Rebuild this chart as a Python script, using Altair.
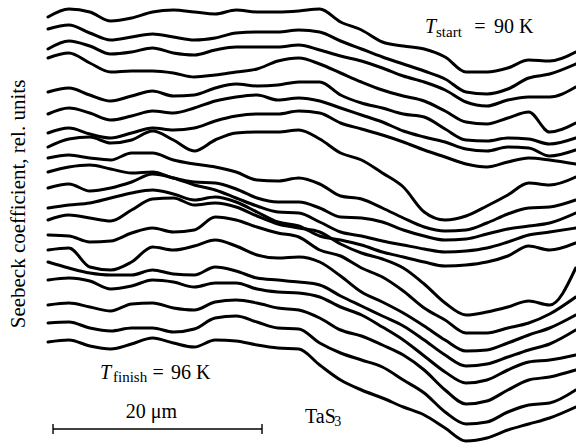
import altair as alt
import pandas as pd

# positions along the whisker, micrometres (scale bar = 20 um)
X_UM = [0, 2, 4, 6, 8, 10, 12, 14, 16, 18, 20, 22, 24, 26, 28, 30,
        32, 34, 36, 38, 40, 42, 44, 46, 48, 50.5]

# traces: level below the top edge, in 0.1 rel. units
TRACE_01 = [17, 9, 12, 21, 18, 12, 10, 12, 14, 10, 12, 12, 11, 9, 22, 30, 42, 46, 49, 57, 72, 72, 68, 60, 61, 52]
TRACE_02 = [29, 25, 33, 40, 37, 34, 37, 40, 38, 33, 32, 32, 30, 32, 41, 49, 57, 64, 71, 79, 92, 94, 89, 78, 74, 64]
TRACE_03 = [49, 41, 46, 54, 52, 48, 53, 55, 50, 47, 47, 47, 45, 50, 56, 61, 68, 76, 82, 90, 102, 106, 100, 97, 97, 87]
TRACE_04 = [58, 53, 63, 72, 71, 71, 73, 77, 75, 72, 69, 61, 58, 64, 73, 82, 90, 96, 101, 111, 122, 124, 118, 112, 132, 123]
TRACE_05 = [92, 88, 95, 101, 96, 91, 96, 95, 88, 84, 86, 85, 82, 82, 95, 103, 108, 114, 117, 129, 140, 141, 138, 139, 144, 138]
TRACE_06 = [114, 108, 113, 120, 116, 111, 113, 108, 101, 97, 95, 100, 98, 101, 108, 115, 122, 131, 137, 142, 149, 151, 147, 148, 156, 150]
TRACE_07 = [133, 128, 134, 138, 133, 128, 130, 128, 121, 116, 114, 114, 111, 113, 123, 129, 135, 142, 150, 157, 164, 167, 162, 158, 160, 164]
TRACE_08 = [147, 139, 137, 143, 140, 131, 140, 151, 140, 133, 132, 132, 130, 139, 153, 160, 173, 187, 212, 220, 216, 206, 195, 183, 185, 177]
TRACE_09 = [158, 155, 158, 160, 153, 153, 160, 164, 167, 172, 180, 181, 178, 184, 196, 199, 208, 218, 227, 231, 230, 223, 214, 208, 207, 200]
TRACE_10 = [172, 167, 165, 169, 173, 172, 178, 182, 183, 189, 198, 202, 202, 208, 217, 218, 222, 230, 236, 240, 239, 234, 229, 226, 223, 213]
TRACE_11 = [188, 184, 191, 188, 182, 174, 178, 185, 190, 198, 206, 212, 213, 222, 232, 236, 241, 245, 249, 252, 251, 248, 242, 235, 232, 228]
TRACE_12 = [208, 205, 203, 198, 193, 190, 194, 200, 197, 202, 212, 222, 226, 236, 240, 245, 252, 257, 262, 266, 265, 262, 256, 246, 250, 243]
TRACE_13 = [220, 215, 218, 221, 210, 199, 198, 205, 203, 207, 216, 224, 228, 232, 244, 253, 259, 268, 284, 303, 315, 312, 307, 301, 305, 268]
TRACE_14 = [235, 236, 242, 241, 233, 228, 232, 230, 217, 220, 227, 233, 237, 250, 256, 268, 277, 291, 308, 320, 333, 333, 328, 323, 314, 297]
TRACE_15 = [250, 248, 267, 270, 262, 247, 250, 246, 240, 246, 255, 258, 257, 262, 276, 292, 302, 313, 326, 340, 351, 350, 343, 335, 328, 315]
TRACE_16 = [262, 268, 273, 275, 275, 270, 274, 275, 267, 271, 278, 280, 282, 285, 296, 306, 316, 326, 340, 355, 366, 364, 357, 350, 344, 330]
TRACE_17 = [280, 278, 281, 289, 286, 280, 282, 287, 283, 283, 289, 292, 293, 297, 307, 315, 327, 340, 356, 372, 383, 380, 370, 362, 360, 355]
TRACE_18 = [305, 303, 307, 311, 304, 303, 308, 310, 302, 300, 303, 308, 310, 318, 330, 336, 345, 355, 370, 390, 404, 401, 390, 380, 377, 370]
TRACE_19 = [323, 322, 328, 331, 328, 328, 332, 329, 318, 316, 322, 328, 329, 343, 353, 360, 367, 380, 393, 412, 424, 422, 412, 405, 403, 390]
TRACE_20 = [342, 340, 346, 349, 344, 338, 343, 347, 340, 341, 345, 348, 349, 365, 380, 390, 398, 407, 415, 428, 441, 438, 430, 424, 418, 407]

TRACES = [TRACE_01, TRACE_02, TRACE_03, TRACE_04, TRACE_05, TRACE_06, TRACE_07,
          TRACE_08, TRACE_09, TRACE_10, TRACE_11, TRACE_12, TRACE_13, TRACE_14,
          TRACE_15, TRACE_16, TRACE_17, TRACE_18, TRACE_19, TRACE_20]

TOP = 44.6  # rel. units at the top edge of the figure

rows = []
for i, tr in enumerate(TRACES):
    for x, r in zip(X_UM, tr):
        rows.append({"trace": i, "x": x, "s": TOP - r / 10.0})
df = pd.DataFrame(rows)

XS = alt.Scale(domain=[-4.593, 50.526], nice=False, zero=False)
YS = alt.Scale(domain=[0, TOP], nice=False, zero=False)

lines = alt.Chart(df).mark_line(
    color="black", strokeWidth=3.0, interpolate="monotone",
    strokeCap="round", strokeJoin="round"
).encode(
    x=alt.X("x:Q", scale=XS, axis=None),
    y=alt.Y("s:Q", scale=YS, axis=None),
    detail="trace:N",
)

SERIF = "Liberation Serif"


def label(x, y, text, size=20, italic=False, align="left", angle=0):
    d = pd.DataFrame({"x": [x], "y": [y], "t": [text]})
    kw = dict(font=SERIF, fontSize=size, align=align, baseline="alphabetic",
              color="black")
    if italic:
        kw["fontStyle"] = "italic"
    if angle:
        kw["angle"] = angle
    return alt.Chart(d).mark_text(**kw).encode(
        x=alt.X("x:Q", scale=XS, axis=None),
        y=alt.Y("y:Q", scale=YS, axis=None),
        text="t:N",
    )


texts = [
    label(36.08, 41.3, "T", 20, italic=True),
    label(37.13, 40.9, "start", 15),
    label(41.34, 41.3, "=", 20, align="center"),
    label(42.68, 41.3, "90 K", 20),
    label(4.98, 6.7, "T", 20, italic=True),
    label(6.22, 6.4, "finish", 15),
    label(10.53, 6.7, "=", 20, align="center"),
    label(11.77, 6.7, "96 K", 20),
    label(9.9, 2.8, "20 μm", 20, align="center"),
    label(24.59, 2.3, "TaS", 20),
    label(27.40, 2.0, "3", 14),
    label(-2.2, 24.2, "Seebeck coefficient, rel. units", 21, align="center", angle=270),
]

BAR_X = [0.48, 20.48]
BAR_Y = 1.7
bar = alt.Chart(pd.DataFrame({"x": [BAR_X[0]], "x2": [BAR_X[1]], "y": [BAR_Y]})).mark_rule(
    color="black", strokeWidth=1.4
).encode(
    x=alt.X("x:Q", scale=XS, axis=None), x2="x2:Q",
    y=alt.Y("y:Q", scale=YS, axis=None),
)
ticks = alt.Chart(pd.DataFrame({"x": BAR_X, "y": [BAR_Y - 0.5] * 2, "y2": [BAR_Y + 0.5] * 2})).mark_rule(
    color="black", strokeWidth=1.4
).encode(
    x=alt.X("x:Q", scale=XS, axis=None),
    y=alt.Y("y:Q", scale=YS, axis=None), y2="y2:Q",
)

chart = alt.layer(lines, bar, ticks, *texts).properties(
    width=576, height=446, padding=0,
    autosize=alt.AutoSizeParams(type="none"),
    background="white",
).configure_view(stroke=None)

chart.save("out.html", embed_options={"renderer": "svg", "actions": False})
